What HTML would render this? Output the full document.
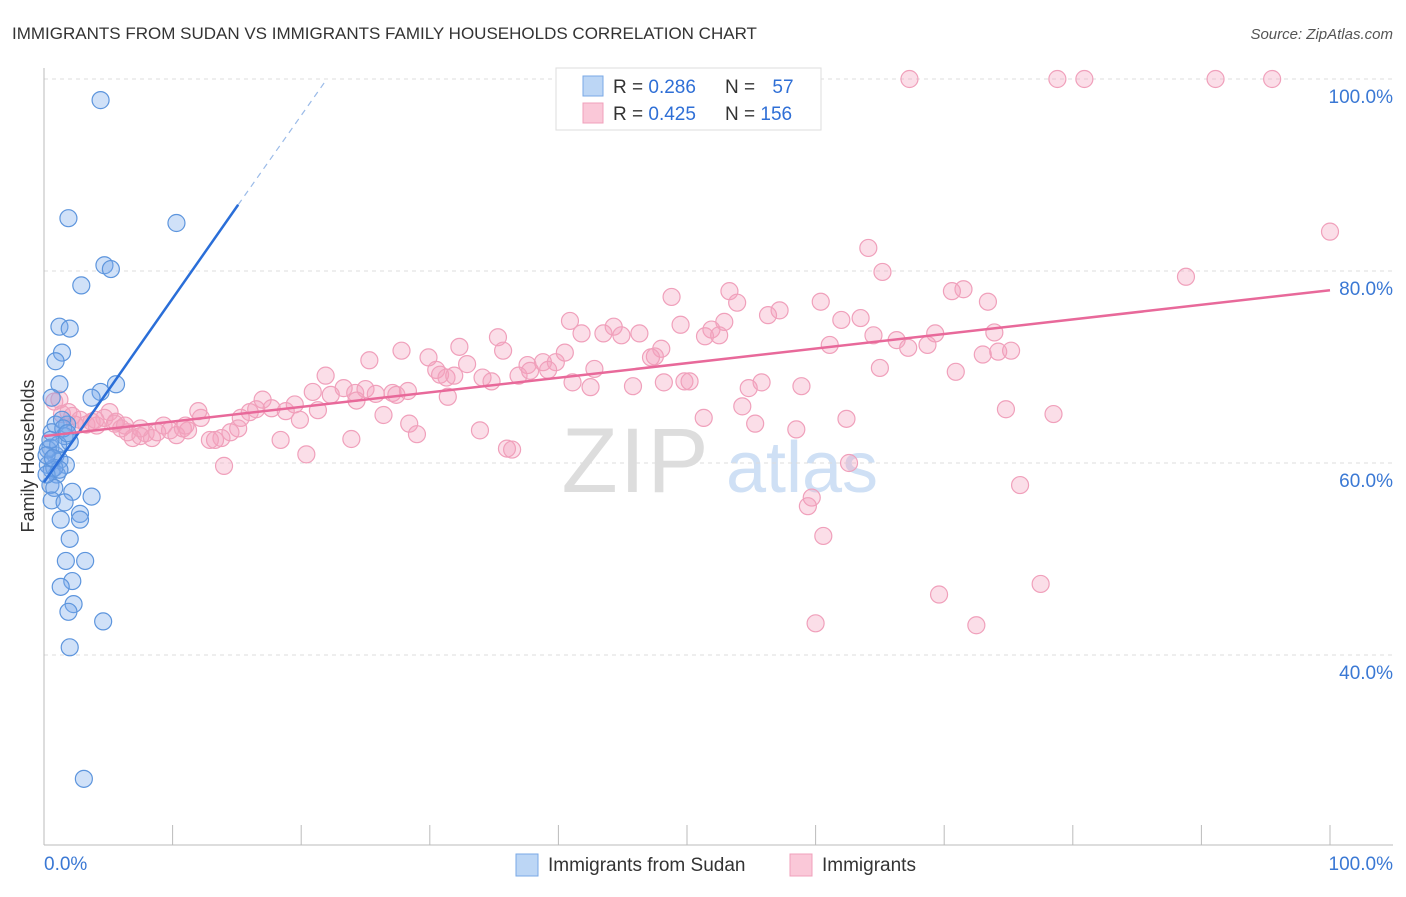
<!DOCTYPE html>
<html><head><meta charset="utf-8">
<style>
body{margin:0;background:#fff;font-family:"Liberation Sans",sans-serif;}
svg text{font-family:"Liberation Sans",sans-serif;}
</style></head>
<body>
<svg id="chart" width="1406" height="892" viewBox="0 0 1406 892">
<text x="12" y="39" font-size="17" fill="#333">IMMIGRANTS FROM SUDAN VS IMMIGRANTS FAMILY HOUSEHOLDS CORRELATION CHART</text>
<text x="1393" y="39" font-size="15" fill="#555" font-style="italic" text-anchor="end">Source: ZipAtlas.com</text>
<g>
<text x="636" y="492" font-size="92" fill="#ddd" text-anchor="middle" font-family="Liberation Serif, serif" letter-spacing="2">ZIP</text>
<text x="802" y="492" font-size="72" fill="#cfe0f5" text-anchor="middle">atlas</text>
</g>
<g id="grid"></g>
<g id="axes"></g>
<text x="34" y="456" font-size="18" fill="#333" text-anchor="middle" transform="rotate(-90 34 456)">Family Households</text>
<g id="pts-pink"></g>
<g id="pts-blue"></g>
<g id="trend"></g>
<g>
<rect x="556" y="68" width="265" height="62" fill="#fff" stroke="#ddd"/>
<rect x="583" y="76" width="20" height="20" fill="#bcd6f5" stroke="#7aa8e6"/>
<rect x="583" y="103" width="20" height="20" fill="#fac8d8" stroke="#f0a0bb"/>
<text x="613" y="93" font-size="19" fill="#333">R = <tspan fill="#2f6fd6">0.286</tspan></text>
<text x="725" y="93" font-size="19" fill="#333">N = <tspan fill="#2f6fd6" dx="12">57</tspan></text>
<text x="613" y="120" font-size="19" fill="#333">R = <tspan fill="#2f6fd6">0.425</tspan></text>
<text x="725" y="120" font-size="19" fill="#333">N = <tspan fill="#2f6fd6">156</tspan></text>
</g>
<g>
<rect x="516" y="854" width="22" height="22" fill="#bcd6f5" stroke="#7aa8e6"/>
<text x="548" y="871" font-size="19" fill="#333">Immigrants from Sudan</text>
<rect x="790" y="854" width="22" height="22" fill="#fac8d8" stroke="#f0a0bb"/>
<text x="822" y="871" font-size="19" fill="#333">Immigrants</text>
</g>
</svg>
<script>
const xTickLabels=["0.0%","100.0%"];
const yTicks=[40,60,80,100];
const yTickLabels=["40.0%","60.0%","80.0%","100.0%"];
const blueX=[4.4,1.9,10.3,4.7,5.2,2.9,1.2,2.0,1.4,0.9,1.2,4.4,5.6,3.7,0.6,0.9,1.8,0.6,2.0,1.6,0.5,0.9,1.2,1.7,0.3,0.6,1.0,0.5,0.8,2.2,3.7,0.6,1.6,2.8,2.8,1.3,2.0,1.7,3.2,2.2,1.3,2.3,1.9,4.6,2.0,3.1,0.3,1.1,1.4,0.8,0.2,0.5,1.2,0.2,1.5,0.7,1.8];
const blueY=[97.8,85.5,85.0,80.6,80.2,78.5,74.2,74.0,71.5,70.6,68.2,67.4,68.2,66.8,66.8,64.0,64.0,63.2,62.2,62.8,61.6,60.8,60.3,59.8,59.8,59.3,58.8,57.7,57.4,57.0,56.5,56.1,55.9,54.7,54.1,54.1,52.1,49.8,49.8,47.7,47.1,45.3,44.5,43.5,40.8,27.1,61.4,61.9,64.5,59.5,58.8,62.4,59.3,60.8,63.6,60.5,63.1];
const pinkX=[67.3,78.8,80.9,91.1,95.5,100,64.1,65.2,88.8,53.3,48.8,71.5,70.6,53.9,60.4,73.4,57.2,56.3,62.0,63.5,52.9,40.9,35.3,41.8,44.3,43.5,44.9,46.3,49.5,51.9,51.4,52.5,48.0,47.5,47.2,61.1,64.5,66.3,67.2,69.3,68.7,73.9,75.2,73.0,74.2,32.3,27.8,25.3,29.9,35.7,39.8,40.5,38.8,37.6,32.9,39.2,42.8,30.5,30.8,31.3,31.9,34.1,34.8,36.9,37.8,41.1,42.5,45.8,48.2,49.8,50.2,54.8,55.8,58.9,65.0,70.9,21.9,23.3,24.2,25.0,25.8,27.1,27.4,28.3,20.9,22.3,24.3,31.4,19.5,17.0,17.7,18.8,16.0,15.3,16.5,12.2,12.0,15.1,14.5,13.8,12.9,13.3,21.3,19.9,26.4,28.4,29.0,18.4,20.4,23.9,33.9,36.0,36.4,14.0,51.3,54.3,55.3,58.5,62.4,62.6,74.8,78.5,75.9,59.7,59.4,60.6,69.6,72.5,77.5,60.0,1.2,0.8,1.4,1.9,2.2,2.8,3.3,3.7,4.1,4.7,5.1,5.6,6.0,6.5,6.9,7.5,7.9,8.4,8.8,9.3,9.8,10.3,10.8,11.2,5.5,6.3,11.0,4.0,2.4,7.5];
const pinkY=[100,100,100,100,100,84.1,82.4,79.9,79.4,77.9,77.3,78.1,77.9,76.7,76.8,76.8,75.9,75.4,74.9,75.1,74.7,74.8,73.1,73.5,74.2,73.5,73.3,73.5,74.4,73.9,73.2,73.3,71.9,71.1,71.0,72.3,73.3,72.8,72.0,73.5,72.3,73.6,71.7,71.3,71.6,72.1,71.7,70.7,71.0,71.7,70.5,71.5,70.5,70.2,70.3,69.7,69.8,69.7,69.2,68.9,69.1,68.9,68.5,69.1,69.6,68.4,67.9,68.0,68.4,68.5,68.5,67.8,68.4,68.0,69.9,69.5,69.1,67.8,67.3,67.7,67.2,67.3,67.1,67.5,67.4,67.1,66.5,66.9,66.1,66.6,65.7,65.4,65.3,64.7,65.6,64.7,65.4,63.6,63.2,62.6,62.4,62.4,65.5,64.5,65.0,64.1,63.0,62.4,60.9,62.5,63.4,61.5,61.4,59.7,64.7,65.9,64.1,63.5,64.6,60.0,65.6,65.1,57.7,56.4,55.5,52.4,46.3,43.1,47.4,43.3,66.6,66.4,65.1,65.3,64.9,64.5,64.0,64.3,63.9,64.7,65.3,64.3,63.6,63.2,62.6,62.8,63.1,62.6,63.2,63.9,63.4,62.9,63.6,63.4,64.1,63.9,63.9,64.5,64.0,63.6];
const blueTrend=[[0,58.0],[15.1,86.9],[22,100]];
const pinkTrend=[[0,62.8],[100,78.0]];

const NS="http://www.w3.org/2000/svg";
const X0=44,X1=1330,YT=79,PXPERPCT=9.6;
const sx=v=>X0+(X1-X0)*v/100;
const sy=v=>YT+(100-v)*PXPERPCT;
function mk(tag,attrs,parent){const e=document.createElementNS(NS,tag);for(const k in attrs)e.setAttribute(k,attrs[k]);parent.appendChild(e);return e;}
const grid=document.getElementById('grid'),axes=document.getElementById('axes');
yTicks.forEach((t,i)=>{
  const l=mk('line',{x1:X0,x2:1393,y1:sy(t),y2:sy(t),stroke:'#ddd','stroke-dasharray':'4,4'},grid);
  
  
  const tx=mk('text',{x:1393,y:sy(t)+24,'font-size':19,fill:'#3a78d4','text-anchor':'end'},grid);
  tx.textContent=yTickLabels[i];
  
  
});
mk('line',{x1:X0,x2:X0,y1:68,y2:845,stroke:'#bbb'},axes);
mk('line',{x1:X0,x2:1393,y1:845,y2:845,stroke:'#bbb'},axes);
for(let i=1;i<=10;i++){
  const t=mk('line',{x1:sx(i*10),x2:sx(i*10),y1:825,y2:845,stroke:'#bbb'},axes);
  
  
}
[[0,'start',44],[100,'end',1393]].forEach((d,i)=>{
  const tx=mk('text',{x:d[2],y:870,'font-size':19,fill:'#3a78d4','text-anchor':d[1]},axes);
  tx.textContent=xTickLabels[i];
  
  
});
const gp=document.getElementById('pts-pink'),gb=document.getElementById('pts-blue');
pinkX.forEach((x,i)=>{
  const c=mk('circle',{cx:sx(x),cy:sy(pinkY[i]),r:8.5,fill:'rgba(244,160,190,0.35)',stroke:'#f0a0bb','stroke-width':1.2},gp);
  
  
});
blueX.forEach((x,i)=>{
  const c=mk('circle',{cx:sx(x),cy:sy(blueY[i]),r:8.5,fill:'rgba(120,170,235,0.35)',stroke:'#5d95dd','stroke-width':1.2},gb);
  
  
});
const tr=document.getElementById('trend');
const bl=mk('line',{x1:sx(blueTrend[0][0]),y1:sy(blueTrend[0][1]),x2:sx(blueTrend[1][0]),y2:sy(blueTrend[1][1]),stroke:'#2a6ed8','stroke-width':2.5},tr);


const bd=mk('line',{x1:sx(blueTrend[1][0]),y1:sy(blueTrend[1][1]),x2:sx(blueTrend[2][0]),y2:sy(blueTrend[2][1]),stroke:'#9bbbe8','stroke-width':1.2,'stroke-dasharray':'6,5'},tr);


const pl=mk('line',{x1:sx(pinkTrend[0][0]),y1:sy(pinkTrend[0][1]),x2:sx(pinkTrend[1][0]),y2:sy(pinkTrend[1][1]),stroke:'#e8699a','stroke-width':2.5},tr);


</script>
</body></html>
